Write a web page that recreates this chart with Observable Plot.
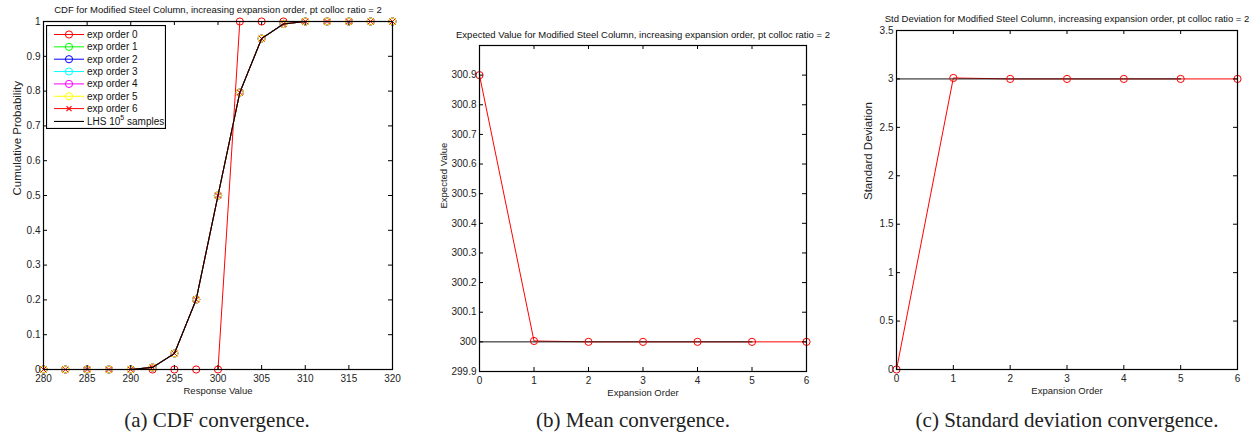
<!DOCTYPE html>
<html>
<head>
<meta charset="utf-8">
<script src="https://cdn.jsdelivr.net/npm/d3@7"></script>
<script src="https://cdn.jsdelivr.net/npm/@observablehq/plot@0.6"></script>
<style>
  html, body { margin: 0; padding: 0; background: #fff; }
  #page { position: relative; width: 1258px; height: 438px; overflow: hidden; }
  .panel { position: absolute; top: 0; }
  .caption { position: absolute; top: 408px; font-family: "Liberation Serif", "DejaVu Serif", serif; font-size: 21px; color: #222; transform: translateX(-50%); white-space: nowrap; }
  #legend { position: absolute; left: 46px; top: 25px; }
</style>
</head>
<body>
<div id="page"></div>
<script>
// ---- CDF data (response value grid) ----
const responseValues = [280, 282.5, 285, 287.5, 290, 292.5, 295, 297.5, 300, 302.5, 305, 307.5, 310, 312.5, 315, 317.5, 320];
const cdfOrder0 = [0, 0, 0, 0, 0, 0, 0, 0, 0, 1, 1, 1, 1, 1, 1, 1, 1];
// orders 1 through 6 coincide on this grid
const cdfHigherOrders = [0, 0, 0, 0, 0, 0.006, 0.046, 0.201, 0.5, 0.796, 0.951, 0.993, 1, 1, 1, 1, 1];
const cdfLhs = [0, 0, 0, 0, 0, 0.006, 0.046, 0.201, 0.5, 0.796, 0.951, 0.993, 1, 1, 1, 1, 1];
const seriesNames = ["exp order 0", "exp order 1", "exp order 2", "exp order 3", "exp order 4", "exp order 5", "exp order 6"];
const seriesColors = ["#ff0000", "#00ff00", "#0000ff", "#00ffff", "#ff00ff", "#ffff00", "#ff0000"];
const seriesSymbols = ["circle", "circle", "circle", "circle", "circle", "circle", "times"];
const cdfTicksX = [280, 285, 290, 295, 300, 305, 310, 315, 320];
const cdfTicksY = [0, 0.1, 0.2, 0.3, 0.4, 0.5, 0.6, 0.7, 0.8, 0.9, 1];

// ---- moment convergence data ----
const expansionOrders = [0, 1, 2, 3, 4, 5, 6];
const meanPce = [300.9, 300.003, 300.0, 300.0, 300.0, 300.0, 300.0];
const stdPce = [0, 3.01, 3.0, 3.0, 3.0, 3.0, 3.0];
const lhsOrders = [0, 1, 2, 3, 4, 5];
const meanLhs = [300.0, 300.0, 300.0, 300.0, 300.0, 300.0];
const stdLhs = [3.0, 3.0, 3.0, 3.0, 3.0, 3.0];
const orderTicks = [0, 1, 2, 3, 4, 5, 6];
const meanTicks = [299.9, 300, 300.1, 300.2, 300.3, 300.4, 300.5, 300.6, 300.7, 300.8, 300.9];
const stdTicks = [0, 0.5, 1, 1.5, 2, 2.5, 3, 3.5];

const titles = [
  "CDF for Modified Steel Column, increasing expansion order, pt colloc ratio = 2",
  "Expected Value for Modified Steel Column, increasing expansion order, pt colloc ratio = 2",
  "Std Deviation for Modified Steel Column, increasing expansion order, pt colloc ratio = 2"
];
const captions = ["(a) CDF convergence.", "(b) Mean convergence.", "(c) Standard deviation convergence."];

const fmt = d3.format("~g");
const labelFont = "'Liberation Sans Narrow', 'Liberation Sans', Arial, sans-serif";

// MATLAB-style box: frame, inward ticks on all four sides, labels left/bottom
function boxAxes(xTicks, yTicks, plotW, plotH) {
  return [
    Plot.frame({stroke: "#000", strokeWidth: 1.2}),
    Plot.tickX(xTicks, {x: d => d, insetTop: plotH - 4, stroke: "#000"}),
    Plot.tickX(xTicks, {x: d => d, insetBottom: plotH - 4, stroke: "#000"}),
    Plot.tickY(yTicks, {y: d => d, insetRight: plotW - 4, stroke: "#000"}),
    Plot.tickY(yTicks, {y: d => d, insetLeft: plotW - 4, stroke: "#000"}),
    Plot.axisX({ticks: xTicks, tickSize: 0, tickPadding: 5, tickFormat: fmt, label: null, fill: "#222"}),
    Plot.axisY({ticks: yTicks, tickSize: 0, tickPadding: 3, tickFormat: fmt, label: null, fill: "#222"})
  ];
}

function annotations(title, xLabel, yLabel, titleDy, yLabelDx, yLabelSize) {
  return [
    Plot.text([title], {frameAnchor: "top", lineAnchor: "middle", dy: titleDy, text: d => d, fontSize: 9.5, fill: "#111"}),
    Plot.text([xLabel], {frameAnchor: "bottom", lineAnchor: "middle", dy: 21, text: d => d, fontSize: 9.5, fill: "#222", fontFamily: labelFont}),
    Plot.text([yLabel], {frameAnchor: "left", lineAnchor: "middle", dx: yLabelDx, rotate: -90, text: d => d, fontSize: yLabelSize, fill: "#222", fontFamily: labelFont})
  ];
}

function place(svg, left) {
  const div = document.createElement("div");
  div.className = "panel";
  div.style.left = left + "px";
  div.appendChild(svg);
  document.getElementById("page").appendChild(div);
}

const baseStyle = {fontFamily: "'Liberation Sans', Arial, sans-serif", fontSize: "10px", background: "transparent", overflow: "visible"};

// ---- (a) CDF ----
{
  const W = 400, H = 400, m = {l: 43, r: 8, t: 21, b: 31};
  const pw = W - m.l - m.r, ph = H - m.t - m.b;
  const seriesValues = [cdfOrder0, cdfHigherOrders, cdfHigherOrders, cdfHigherOrders, cdfHigherOrders, cdfHigherOrders, cdfHigherOrders];
  const marks = [];
  seriesValues.forEach((vals, i) => {
    const pts = responseValues.map((x, j) => ({x, y: vals[j]}));
    marks.push(Plot.line(pts, {x: "x", y: "y", stroke: seriesColors[i], strokeWidth: 1}));
    marks.push(Plot.dot(pts, {x: "x", y: "y", stroke: seriesColors[i], fill: "none", symbol: seriesSymbols[i], r: i === 6 ? 2.6 : 3.6, strokeWidth: 1}));
  });
  const lhsPts = responseValues.map((x, j) => ({x, y: cdfLhs[j]}));
  marks.push(Plot.line(lhsPts, {x: "x", y: "y", stroke: "#000", strokeWidth: 1.1}));
  const svg = Plot.plot({
    width: W, height: H, marginLeft: m.l, marginRight: m.r, marginTop: m.t, marginBottom: m.b,
    style: baseStyle,
    x: {domain: [280, 320]}, y: {domain: [0, 1]},
    marks: [...marks, ...boxAxes(cdfTicksX, cdfTicksY, pw, ph), ...annotations(titles[0], "Response Value", "Cumulative Probability", -12, -26, 11.5)]
  });
  place(svg, 0);
}

// ---- (b) mean ----
{
  const W = 400, H = 400, m = {l: 64, r: 9, t: 45, b: 29};
  const pw = W - m.l - m.r, ph = H - m.t - m.b;
  const pce = expansionOrders.map((x, j) => ({x, y: meanPce[j]}));
  const lhs = lhsOrders.map((x, j) => ({x, y: meanLhs[j]}));
  const svg = Plot.plot({
    width: W, height: H, marginLeft: m.l, marginRight: m.r, marginTop: m.t, marginBottom: m.b,
    style: baseStyle,
    x: {domain: [0, 6]}, y: {domain: [299.9, 301]},
    marks: [
      Plot.line(pce, {x: "x", y: "y", stroke: "#ff0000", strokeWidth: 1}),
      Plot.line(lhs, {x: "x", y: "y", stroke: "#111", strokeWidth: 1}),
      Plot.dot(pce, {x: "x", y: "y", stroke: "#ff0000", fill: "none", r: 3.6, strokeWidth: 1}),
      ...boxAxes(orderTicks, meanTicks, pw, ph),
      ...annotations(titles[1], "Expansion Order", "Expected Value", -11, -36, 9.5)
    ]
  });
  place(svg, 415);
}

// ---- (c) standard deviation ----
{
  const W = 418, H = 400, m = {l: 56, r: 21, t: 30, b: 31};
  const pw = W - m.l - m.r, ph = H - m.t - m.b;
  const pce = expansionOrders.map((x, j) => ({x, y: stdPce[j]}));
  const lhs = lhsOrders.map((x, j) => ({x, y: stdLhs[j]}));
  const svg = Plot.plot({
    width: W, height: H, marginLeft: m.l, marginRight: m.r, marginTop: m.t, marginBottom: m.b,
    style: baseStyle,
    x: {domain: [0, 6]}, y: {domain: [0, 3.5]},
    marks: [
      Plot.line(pce, {x: "x", y: "y", stroke: "#ff0000", strokeWidth: 1}),
      Plot.line(lhs, {x: "x", y: "y", stroke: "#111", strokeWidth: 1}),
      Plot.dot(pce, {x: "x", y: "y", stroke: "#ff0000", fill: "none", r: 3.6, strokeWidth: 1}),
      ...boxAxes(orderTicks, stdTicks, pw, ph),
      ...annotations(titles[2], "Expansion Order", "Standard Deviation", -12, -28, 11.5)
    ]
  });
  place(svg, 840);
}

// ---- legend for (a) ----
{
  const page = d3.select("#page");
  const lw = 120, lh = 104;
  const svg = page.append("svg").attr("id", "legend").attr("width", lw).attr("height", lh)
    .style("font-family", "'Liberation Sans', Arial, sans-serif").style("font-size", "10px");
  svg.append("rect").attr("x", 0.5).attr("y", 0.5).attr("width", lw - 1).attr("height", lh - 1)
    .attr("fill", "#fff").attr("stroke", "#000").attr("stroke-width", 1.2);
  const rowH = 12.35, y0 = 9.5;
  seriesNames.forEach((name, i) => {
    const y = y0 + i * rowH;
    const g = svg.append("g").attr("transform", `translate(0,${y})`);
    g.append("line").attr("x1", 8).attr("x2", 38).attr("stroke", seriesColors[i]).attr("stroke-width", 1);
    if (seriesSymbols[i] === "circle") {
      g.append("circle").attr("cx", 23).attr("r", 3.6).attr("fill", "none").attr("stroke", seriesColors[i]);
    } else {
      g.append("path").attr("d", "M20.5,-2.5L25.5,2.5M20.5,2.5L25.5,-2.5").attr("stroke", seriesColors[i]).attr("stroke-width", 1.2);
    }
    g.append("text").attr("x", 41).attr("y", 3.5).attr("fill", "#111").text(name);
  });
  const yL = y0 + 7 * rowH + 0.5;
  const gl = svg.append("g").attr("transform", `translate(0,${yL})`);
  gl.append("line").attr("x1", 8).attr("x2", 38).attr("stroke", "#000").attr("stroke-width", 1.1);
  const t = gl.append("text").attr("x", 41).attr("y", 3.5).attr("fill", "#111");
  t.append("tspan").text("LHS 10");
  t.append("tspan").attr("dy", -4.5).attr("font-size", "7px").text("5");
  t.append("tspan").attr("dy", 4.5).text(" samples");
}

// ---- captions ----
const captionCenters = [217, 633, 1067];
captions.forEach((c, i) => {
  const div = document.createElement("div");
  div.className = "caption";
  div.style.left = captionCenters[i] + "px";
  div.textContent = c;
  document.getElementById("page").appendChild(div);
});
</script>
</body>
</html>
